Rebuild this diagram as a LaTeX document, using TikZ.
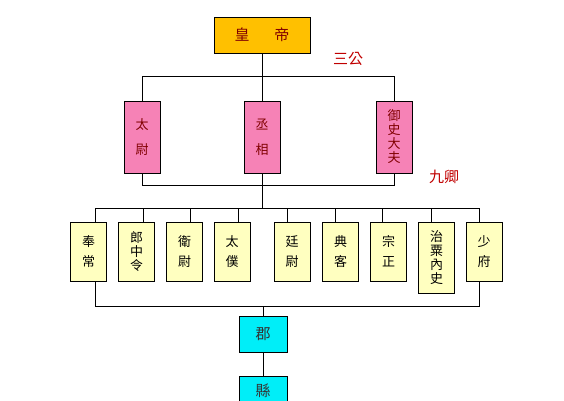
\documentclass[tikz,border=0pt]{standalone}
\usepackage{fontspec}
\newfontfamily\cjk{Noto Sans CJK TC}
\definecolor{hdgold}{RGB}{255,192,0}
\definecolor{hdred}{RGB}{128,0,0}
\definecolor{lblred}{RGB}{192,0,0}
\definecolor{sgpink}{RGB}{246,130,182}
\definecolor{jqyellow}{RGB}{255,255,192}
\definecolor{jxcyan}{RGB}{0,238,248}
\tikzset{
  guan/.style={draw=black, line width=0.8pt, inner sep=0pt, align=center,
    font=\cjk\fontsize{13}{14}\selectfont},
  huangdi/.style={guan, fill=hdgold, text=hdred, minimum width=96pt, minimum height=36pt,
    font=\cjk\fontsize{15}{16}\selectfont},
  sangong/.style={guan, fill=sgpink, text=hdred, minimum width=36pt, minimum height=72pt},
  jiuqing/.style={guan, fill=jqyellow, minimum width=36pt, minimum height=59pt},
  junxian/.style={guan, fill=jxcyan, text=black!80, minimum width=48pt, minimum height=36pt,
    font=\cjk\fontsize{15}{16}\selectfont},
  rank/.style={text=lblred, font=\cjk\fontsize{15}{16}\selectfont},
  link/.style={line width=0.8pt}
}
\begin{document}
\begin{tikzpicture}[x=1pt,y=-1pt]
    \useasboundingbox (0,0) rectangle (564,400);

    %% emperor
    \node [huangdi] (hd) at (262,35) {皇\hspace{25pt}帝};
    \node [rank] (sglabel) at (348,59) {三公};

    %% three excellencies
    \node [sangong] (taiwei) at (142,137) {太\\[11pt]尉};
    \node [sangong] (chengxiang) at (262,137) {丞\\[11pt]相};
    \node [sangong] (yushi) at (394,137) {御\\史\\大\\夫};
    \node [rank] (jqlabel) at (444,177) {九卿};

    \draw [link] (hd.south) -- (chengxiang.north);
    \draw [link] (taiwei.north) -- ++(0,-24) -| (yushi.north);
    \draw [link] (taiwei.south) -- ++(0,12) -| (yushi.south);
    \draw [link] (chengxiang.south) -- ++(0,36);

    %% nine ministers
    \node [jiuqing] (fengchang) at (88.5,251.5) {奉\\[6pt]常};
    \node [jiuqing] (langzhong) at (136.5,251.5) {郎\\中\\令};
    \node [jiuqing] (weiwei) at (184.5,251.5) {衛\\[6pt]尉};
    \node [jiuqing] (taipu) at (232,251.5) {太\\[6pt]僕};
    \node [jiuqing] (tingwei) at (292,251.5) {廷\\[6pt]尉};
    \node [jiuqing] (dianke) at (340.5,251.5) {典\\[6pt]客};
    \node [jiuqing] (zongzheng) at (388.5,251.5) {宗\\[6pt]正};
    \node [jiuqing, minimum height=71pt] (zhisu) at (436.5,257.5) {治\\粟\\內\\史};
    \node [jiuqing] (shaofu) at (484,251.5) {少\\[6pt]府};

    \draw [link] ([xshift=6.5pt]fengchang.north) -- ++(0,-13) -| ([xshift=-5pt]shaofu.north);
    \draw [link] ([xshift=6.5pt]langzhong.north) -- ++(0,-13);
    \draw [link] ([xshift=5.5pt]weiwei.north) -- ++(0,-13);
    \draw [link] ([xshift=6pt]taipu.north) -- ++(0,-13);
    \draw [link] ([xshift=-5pt]tingwei.north) -- ++(0,-13);
    \draw [link] ([xshift=-5.5pt]dianke.north) -- ++(0,-13);
    \draw [link] ([xshift=-6.5pt]zongzheng.north) -- ++(0,-13);
    \draw [link] ([xshift=-5.5pt]zhisu.north) -- ++(0,-13);
    \draw [link] ([xshift=6.5pt]fengchang.south) -- ++(0,25) -| ([xshift=-5pt]shaofu.south);

    %% commanderies and counties
    \node [junxian] (jun) at (263,334) {郡};
    \node [junxian, minimum height=30pt] (xian) at (263,391) {縣};
    \draw [link] (jun.north) -- ++(0,-10);
    \draw [link] (jun.south) -- (xian.north);
\end{tikzpicture}
\end{document}
